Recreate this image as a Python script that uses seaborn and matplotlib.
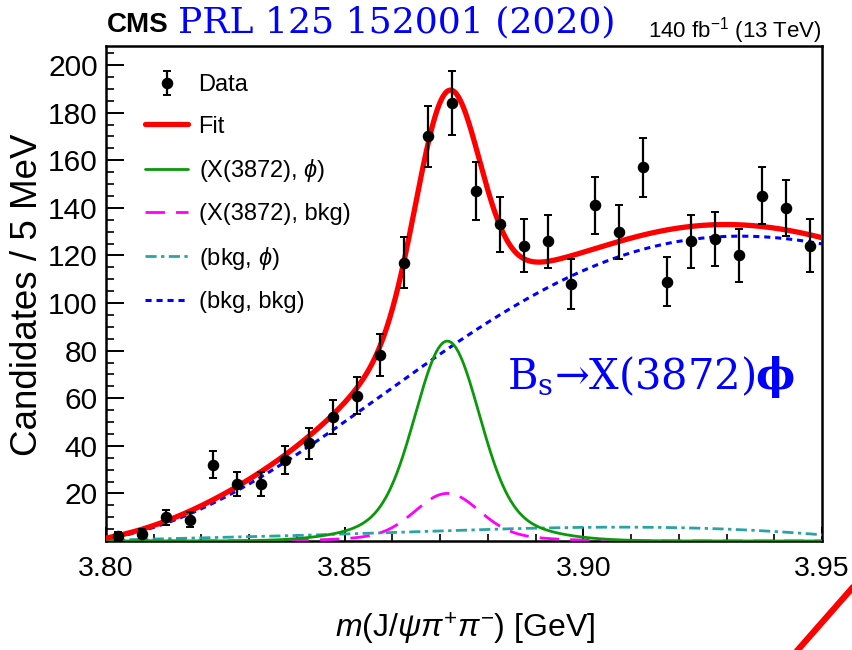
import numpy as np
import pandas as pd
import matplotlib
matplotlib.use("Agg")
import matplotlib.pyplot as plt
import seaborn as sns
from matplotlib.lines import Line2D
from matplotlib.ticker import MultipleLocator, FixedLocator

# ---------------------------------------------------------------
# Binned data: m(J/psi pi+ pi-), 5 MeV bins from 3.80 to 3.95 GeV
# ---------------------------------------------------------------
bin_low = 3.80
bin_width = 0.005
counts = [2, 3, 10, 9, 32, 24, 24, 34, 41, 52,
          61, 78, 117, 170, 184, 147, 133, 124, 126, 108,
          141, 130, 157, 109, 126, 127, 120, 145, 140, 124]
count_errors = [1.6, 1.9, 3.2, 3.0, 5.7, 4.9, 4.9, 5.8, 6.4, 7.2,
                7.8, 8.8, 10.8, 13.0, 13.6, 12.1, 11.5, 11.1, 11.2, 10.4,
                11.9, 11.4, 12.5, 10.4, 11.2, 11.3, 11.0, 12.0, 11.8, 11.1]

# Fit components: X(3872) peak shape (double Gaussian)
peak_mass = 3.8715
core_sigma = 0.0065
tail_sigma = 0.014
tail_fraction = 0.15
x_phi_peak = 84.0      # (X(3872), phi)
x_bkg_peak = 20.0      # (X(3872), bkg)

# Smooth background components, values at 10 MeV steps
bkg_mass = [3.80, 3.81, 3.82, 3.83, 3.84, 3.85, 3.86, 3.87,
            3.88, 3.89, 3.90, 3.91, 3.92, 3.93, 3.94, 3.95]
bkg_bkg_vals = [0.5, 6.5, 14.0, 23.5, 35.5, 50.0, 65.0, 79.0,
                92.0, 104.0, 113.5, 120.5, 125.5, 128.5, 128.0, 124.5]
bkg_phi_vals = [0.3, 0.8, 1.3, 1.8, 2.3, 2.9, 3.6, 4.3,
                4.9, 5.4, 5.7, 5.8, 5.6, 5.0, 4.0, 2.6]

legend_labels = ["Data", "Fit", r"(X(3872), $\phi$)", "(X(3872), bkg)",
                 r"(bkg, $\phi$)", "(bkg, bkg)"]

# ---------------------------------------------------------------
# Model curves
# ---------------------------------------------------------------
m = np.linspace(3.80, 3.95, 751)


def peak_shape(x):
    d = x - peak_mass
    return ((1 - tail_fraction) * np.exp(-0.5 * (d / core_sigma) ** 2)
            + tail_fraction * np.exp(-0.5 * (d / tail_sigma) ** 2))


bb_poly = np.polynomial.Polynomial.fit(bkg_mass, bkg_bkg_vals, 5)
bp_poly = np.polynomial.Polynomial.fit(bkg_mass, bkg_phi_vals, 5)

curves = pd.DataFrame({
    "m": m,
    "x_phi": x_phi_peak * peak_shape(m),
    "x_bkg": x_bkg_peak * peak_shape(m),
    "bkg_phi": np.clip(bp_poly(m), 0, None),
    "bkg_bkg": np.clip(bb_poly(m), 0, None),
})
curves["fit"] = curves[["x_phi", "x_bkg", "bkg_phi", "bkg_bkg"]].sum(axis=1)

centers = bin_low + bin_width * (np.arange(len(counts)) + 0.5)
data = pd.DataFrame({"m": centers, "n": counts, "err": count_errors})

# ---------------------------------------------------------------
# Style
# ---------------------------------------------------------------
sns.set_theme(style="white")
plt.rcParams["font.family"] = ["Liberation Sans", "DejaVu Sans"]
plt.rcParams["mathtext.fontset"] = "custom"
plt.rcParams["mathtext.rm"] = "Liberation Sans"
plt.rcParams["mathtext.it"] = "Liberation Sans:italic"
plt.rcParams["mathtext.bf"] = "Liberation Sans:bold"
plt.rcParams["axes.linewidth"] = 1.8
plt.rcParams["axes.edgecolor"] = "black"
plt.rcParams["text.color"] = "black"
plt.rcParams["xtick.color"] = "black"
plt.rcParams["ytick.color"] = "black"
plt.rcParams["xtick.labelcolor"] = "black"
plt.rcParams["ytick.labelcolor"] = "black"

fig = plt.figure(figsize=(8.53, 6.5), dpi=100)
ax = fig.add_axes([0.1243, 0.1677, 0.8394, 0.7615])

sns.lineplot(data=curves, x="m", y="bkg_bkg", ax=ax, color="#0000ff", lw=2.2,
             linestyle=(0, (2.0, 1.6)), zorder=3)
h_bb = ax.lines[-1]
sns.lineplot(data=curves, x="m", y="bkg_phi", ax=ax, color="#2ba3a3", lw=2.0,
             linestyle=(0, (4.0, 1.6, 1.2, 1.6)), zorder=3)
h_bp = ax.lines[-1]
sns.lineplot(data=curves, x="m", y="x_bkg", ax=ax, color="#ff00ff", lw=2.0,
             linestyle=(0, (7.0, 4.0)), zorder=3)
h_xb = ax.lines[-1]
sns.lineplot(data=curves, x="m", y="x_phi", ax=ax, color="#0a990a", lw=2.0,
             zorder=4)
h_xp = ax.lines[-1]
sns.lineplot(data=curves, x="m", y="fit", ax=ax, color="#ff0000", lw=3.8,
             zorder=5)
h_fit = ax.lines[-1]

eb = ax.errorbar(data["m"], data["n"], yerr=data["err"], fmt="o",
                 color="black", ms=7.3, elinewidth=1.6, capsize=2.6,
                 capthick=1.4, zorder=10)

ax.set_xlim(3.80, 3.95)
ax.set_ylim(0, 208)
ax.set_xlabel("")
ax.set_ylabel("")

ax.xaxis.set_major_locator(FixedLocator([3.80, 3.85, 3.90, 3.95]))
ax.set_xticklabels(["3.80", "3.85", "3.90", "3.95"])
ax.xaxis.set_minor_locator(FixedLocator([3.81, 3.82, 3.83, 3.84, 3.86, 3.87,
                                         3.88, 3.89, 3.91, 3.92, 3.93, 3.94]))
ax.yaxis.set_major_locator(FixedLocator(list(range(20, 201, 20))))
ax.yaxis.set_minor_locator(MultipleLocator(5))

ax.tick_params(axis="both", which="both", direction="in", top=False,
               right=False, bottom=True, left=True, color="black")
ax.tick_params(axis="y", which="major", length=13, width=1.4, labelsize=21.5, pad=6)
ax.tick_params(axis="y", which="minor", length=6, width=1.2)
ax.tick_params(axis="x", which="major", length=10, width=1.4, labelsize=20.5, pad=11)
ax.tick_params(axis="x", which="minor", length=5, width=1.2)

leg = ax.legend([eb, h_fit, h_xp, h_xb, h_bp, h_bb], legend_labels,
                loc="upper left", bbox_to_anchor=(0.055, 0.943),
                frameon=False, fontsize=17, handlelength=1.8,
                handletextpad=0.45, labelspacing=0.82,
                borderaxespad=0, borderpad=0)

# Axis titles
fig.text(28 / 853, 1 - 294.5 / 650, "Candidates / 5 MeV", rotation=90,
         ha="center", va="center", fontsize=26.5)
fig.text(465 / 853, 1 - 638 / 650, r"$m$(J/$\psi\pi^{+}\pi^{-}$) [GeV]",
         ha="center", va="baseline", fontsize=23)

# Header
fig.text(107 / 853, 1 - 32 / 650, "CMS", fontweight="bold", fontsize=20,
         ha="left", va="baseline")
fig.text(178 / 853, 1 - 32 / 650, "PRL 125 152001 (2020)", color="#0000ff",
         family="DejaVu Serif", fontsize=26, ha="left", va="baseline")
fig.text(822 / 853, 1 - 37 / 650, r"140 fb$^{-1}$ (13 TeV)", fontsize=16,
         ha="right", va="baseline")

# Decay channel label
decay = ax.text(3.884, 64, r"B$_\mathregular{s}$→X(3872)", color="#0000ff",
                family="DejaVu Serif", fontsize=30, ha="left", va="baseline")
ax.annotate("ϕ", xy=(1.0, 64), xycoords=(decay, "data"), color="#0000ff",
            family="DejaVu Serif", fontweight="bold", fontsize=30,
            ha="left", va="baseline")

# Red corner stroke
fig.add_artist(Line2D([0.926, 1.0094], [-0.0138, 0.1108],
                      transform=fig.transFigure, color="#ff0000", lw=4.5))

fig.savefig("out.png", dpi=100)
